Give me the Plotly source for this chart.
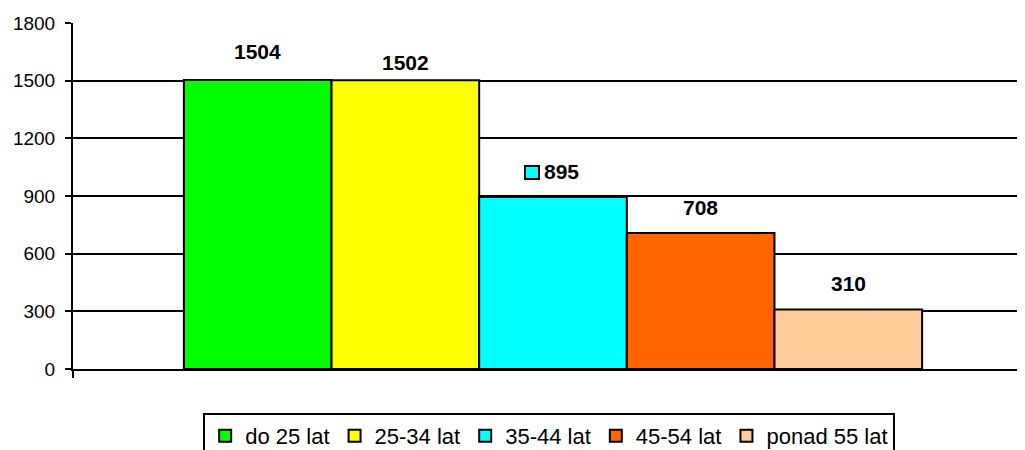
import plotly.graph_objects as go

# ---- data ----
category = ["Wiek"]
series_names = ["do 25 lat", "25-34 lat", "35-44 lat", "45-54 lat", "ponad 55 lat"]
series_values = [1504, 1502, 895, 708, 310]
y_ticks = [0, 300, 600, 900, 1200, 1500, 1800]

# ---- style ----
colors = ["#00FF00", "#FFFF00", "#00FFFF", "#FF6600", "#FFCC99"]
label_offsets_px = [28, 18, 25, 25, 26]
label_xshift_px = [0, 0, 8, 0, 0]
BARGAP = 0.231
FONT = "Liberation Sans, Arial, sans-serif"

fig = go.Figure()
for name, val, col in zip(series_names, series_values, colors):
    fig.add_trace(go.Bar(
        x=category, y=[val], name=name,
        marker=dict(color=col, line=dict(color="black", width=2)),
    ))

n = len(series_values)
w = (1 - BARGAP) / n
annotations = []
for i, val in enumerate(series_values):
    xc = -0.5 * (1 - BARGAP) + (i + 0.5) * w
    annotations.append(dict(
        x=xc, y=val, xref="x", yref="y",
        text=f"<b>{val}</b>", showarrow=False,
        yshift=label_offsets_px[i], xshift=label_xshift_px[i],
        font=dict(family=FONT, size=21, color="black"),
    ))

# legend key next to the "895" label
ci = 2
xc_cyan = -0.5 * (1 - BARGAP) + (ci + 0.5) * w
shapes = [dict(
    type="rect", xref="x", yref="y",
    xsizemode="pixel", xanchor=xc_cyan, x0=-28, x1=-14,
    ysizemode="pixel", yanchor=series_values[ci], y0=18, y1=31,
    fillcolor=colors[ci], line=dict(color="black", width=2),
)]

fig.update_layout(
    width=1025, height=442,
    paper_bgcolor="white", plot_bgcolor="white",
    barmode="group", bargap=BARGAP, bargroupgap=0,
    margin=dict(l=65, r=0, t=15, b=81, autoexpand=False),
    font=dict(family=FONT, color="black"),
    annotations=annotations, shapes=shapes,
    legend=dict(
        orientation="h", x=0.496, xanchor="center", y=-0.127, yanchor="top",
        font=dict(family=FONT, size=22, color="black"),
        bordercolor="black", borderwidth=2, bgcolor="white",
        itemwidth=30, tracegroupgap=0,
    ),
    showlegend=True,
)
fig.update_xaxes(
    type="category", range=[-0.5, 0.5], showticklabels=False,
    showline=True, linecolor="black", linewidth=2,
    ticks="outside", tickson="boundaries", ticklen=7, tickcolor="black", tickwidth=2,
    showgrid=False, zeroline=False,
)
fig.update_yaxes(
    range=[0, 1800], tickvals=y_ticks, ticktext=[str(t) for t in y_ticks],
    showline=True, linecolor="black", linewidth=2,
    ticks="outside", ticklen=6, tickcolor="black", tickwidth=2,
    ticklabelstandoff=6,
    showgrid=True, gridcolor="black", gridwidth=2, zeroline=False,
    tickfont=dict(family=FONT, size=19, color="black"),
)

fig.write_html("out.html")
